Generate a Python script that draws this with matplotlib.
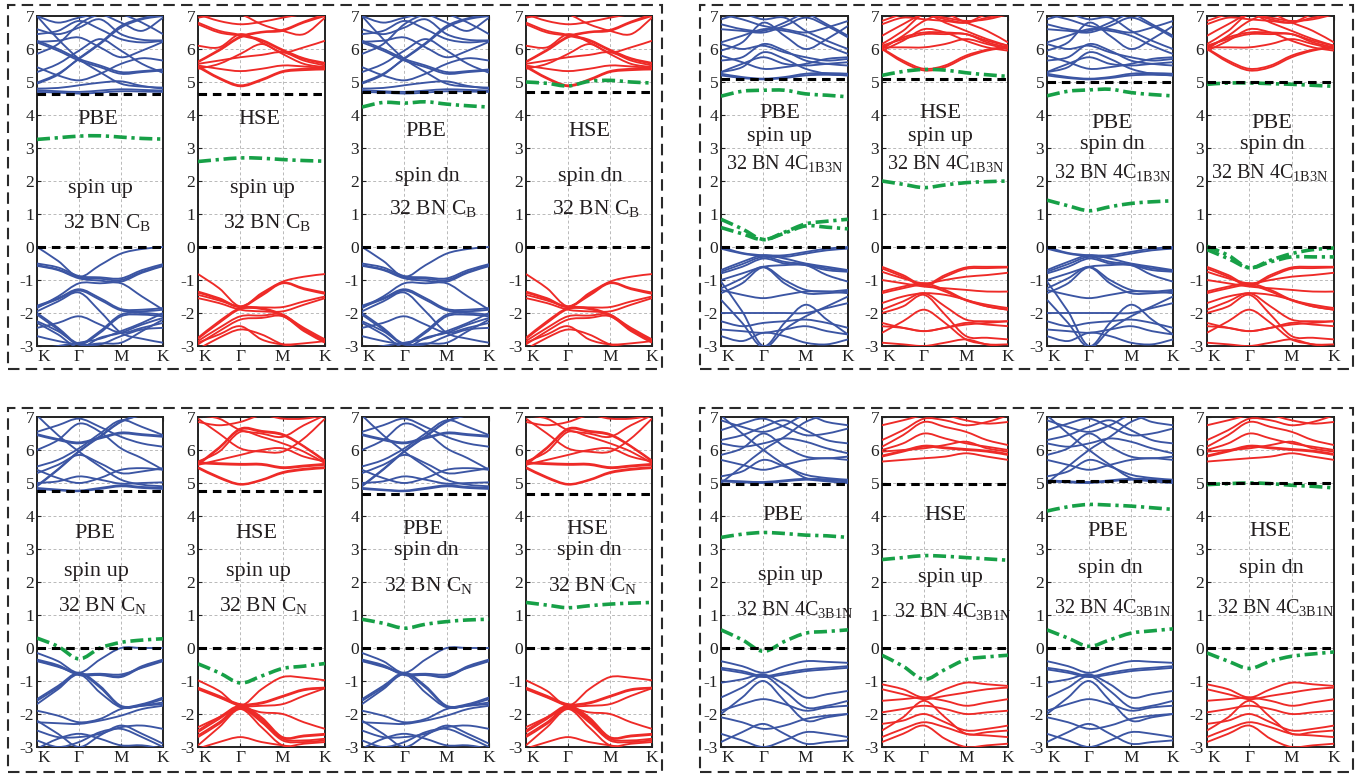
import numpy as np
import matplotlib
matplotlib.use("Agg")
import matplotlib.pyplot as plt
from matplotlib.path import Path
from matplotlib.patches import PathPatch, Rectangle

plt.rcParams.update({
    "font.family": ["Liberation Serif", "DejaVu Serif"],
    "mathtext.fontset": "custom",
    "mathtext.rm": "Liberation Serif",
    "mathtext.it": "Liberation Serif:italic",
    "axes.unicode_minus": False,
})

# high-symmetry path K-Γ-M-K, sampled at the nodes and half-way points
k_nodes = [0.0, 0.5, 1.0, 1.5, 2.0, 2.5, 3.0]
k_labels = ["K", "Γ", "M", "K"]

# ---------------- 32 BN C_B ----------------
cb_CB_pbe = [
    [4.70, 4.68, 4.65, 4.68, 4.72, 4.71, 4.70],
    [4.75, 4.72, 4.70, 4.74, 4.78, 4.76, 4.74],
    [4.80, 4.82, 4.90, 4.98, 5.02, 4.88, 4.80],
    [4.98, 5.25, 5.70, 6.15, 6.65, 6.90, 7.00],
    [4.95, 5.22, 5.72, 6.18, 6.70, 6.93, 7.05],
    [7.00, 6.30, 5.70, 5.30, 4.95, 4.86, 4.83],
    [6.20, 5.95, 5.65, 5.45, 5.25, 5.30, 5.35],
    [6.25, 6.00, 5.70, 5.50, 5.30, 5.33, 5.38],
    [5.30, 5.55, 5.95, 6.30, 5.95, 5.55, 5.28],
    [6.22, 6.25, 6.35, 6.05, 5.75, 5.95, 6.22],
    [6.60, 6.45, 6.65, 6.90, 6.45, 6.28, 6.26],
    [5.45, 5.20, 5.05, 5.25, 5.55, 5.72, 5.65],
    [7.00, 6.80, 6.95, 7.05, 6.80, 6.55, 6.95],
    [5.85, 6.15, 6.75, 7.05, 7.05, 6.80, 6.45],
    [6.45, 6.55, 6.85, 6.60, 6.30, 6.20, 6.25],
]
vb_CB_pbe = [
    [0.00, -0.42, -0.90, -0.55, -0.20, -0.06, 0.00],
    [-0.50, -0.62, -0.88, -0.92, -0.95, -0.70, -0.52],
    [-0.55, -0.68, -0.92, -0.96, -1.00, -0.75, -0.56],
    [-0.57, -0.70, -0.95, -1.02, -1.05, -0.78, -0.58],
    [-1.78, -1.55, -1.28, -1.55, -1.88, -1.90, -1.85],
    [-1.82, -1.58, -1.32, -1.60, -1.92, -1.95, -1.90],
    [-1.95, -1.65, -1.38, -1.95, -2.60, -2.78, -2.90],
    [-2.00, -2.45, -2.92, -2.55, -2.05, -2.00, -2.05],
    [-2.05, -2.50, -2.95, -2.60, -2.10, -2.05, -2.10],
    [-2.25, -2.55, -2.95, -2.92, -2.90, -2.55, -2.20],
    [-3.10, -3.00, -2.90, -2.78, -2.55, -2.30, -2.00],
    [-1.85, -1.50, -1.10, -1.10, -1.10, -1.50, -1.90],
    [-2.30, -2.65, -3.05, -2.75, -2.60, -2.35, -2.15],
    [-2.45, -2.30, -2.10, -2.35, -2.60, -2.45, -2.30],
    [-2.70, -2.85, -2.95, -2.95, -2.70, -2.50, -2.45],
]
cb_CB_hse = [
    [5.45, 5.10, 4.87, 5.05, 5.30, 5.36, 5.38],
    [5.48, 5.13, 4.90, 5.08, 5.33, 5.40, 5.42],
    [5.50, 5.40, 5.33, 5.40, 5.50, 5.47, 5.42],
    [5.55, 5.65, 5.75, 5.82, 5.90, 5.65, 5.50],
    [5.60, 5.95, 6.35, 6.50, 6.55, 6.80, 7.00],
    [5.62, 5.98, 6.38, 6.52, 6.58, 6.83, 7.05],
    [6.10, 6.05, 6.45, 6.20, 5.85, 5.55, 5.45],
    [6.75, 6.50, 6.40, 6.25, 5.95, 5.70, 5.55],
    [6.80, 6.55, 6.43, 6.28, 5.98, 5.72, 5.58],
    [7.05, 6.85, 6.75, 6.82, 6.95, 7.05, 7.05],
    [5.40, 5.55, 5.85, 6.15, 5.90, 6.05, 6.25],
    [6.95, 7.05, 7.05, 6.75, 6.55, 6.45, 6.95],
]
vb_CB_hse = [
    [-0.82, -1.25, -1.80, -1.40, -1.05, -0.90, -0.82],
    [-1.35, -1.55, -1.80, -1.45, -1.08, -1.25, -1.38],
    [-1.38, -1.58, -1.82, -1.48, -1.10, -1.28, -1.42],
    [-1.45, -1.62, -1.82, -1.83, -1.82, -1.65, -1.50],
    [-2.75, -2.25, -1.85, -1.85, -2.05, -2.45, -2.80],
    [-2.78, -2.30, -1.88, -1.88, -2.08, -2.50, -2.85],
    [-2.85, -2.45, -2.10, -2.08, -2.05, -2.50, -2.85],
    [-2.95, -2.55, -2.20, -2.15, -2.10, -2.55, -2.90],
    [-2.90, -2.65, -2.40, -2.80, -2.95, -2.92, -2.85],
    [-3.10, -2.75, -2.50, -2.65, -2.95, -3.05, -3.10],
    [-1.55, -1.70, -1.90, -1.95, -1.95, -1.75, -1.55],
]

# ---------------- 32 BN 4C_1B3N ----------------
cb_1B3N_pbe = [
    [5.20, 5.12, 5.08, 5.12, 5.20, 5.22, 5.20],
    [5.25, 5.15, 5.10, 5.15, 5.25, 5.27, 5.25],
    [5.30, 5.45, 5.90, 5.70, 5.40, 5.25, 5.20],
    [5.30, 5.55, 5.75, 5.55, 5.50, 5.55, 5.60],
    [5.80, 5.60, 5.40, 5.45, 5.55, 5.70, 5.75],
    [6.15, 6.00, 6.10, 5.90, 5.75, 5.65, 5.70],
    [6.20, 6.40, 6.60, 6.55, 6.40, 6.10, 5.85],
    [6.60, 6.55, 6.50, 6.70, 6.95, 6.70, 6.35],
    [6.75, 6.60, 6.55, 6.80, 7.05, 6.75, 6.40],
    [7.05, 6.90, 6.70, 6.60, 6.50, 6.65, 6.85],
    [6.90, 7.05, 6.90, 6.95, 6.55, 6.25, 6.00],
    [5.95, 6.20, 6.80, 6.40, 6.00, 6.30, 6.70],
    [5.65, 5.75, 6.15, 5.95, 5.65, 5.55, 5.50],
]
vb_1B3N_pbe = [
    [0.00, -0.18, -0.25, -0.25, -0.15, -0.05, 0.00],
    [-0.05, -0.20, -0.28, -0.30, -0.20, -0.10, -0.05],
    [-0.70, -0.45, -0.25, -0.35, -0.50, -0.60, -0.70],
    [-0.75, -0.52, -0.30, -0.45, -0.52, -0.65, -0.72],
    [-0.80, -0.60, -0.35, -0.50, -0.55, -0.70, -0.75],
    [-1.00, -0.80, -0.60, -0.55, -0.55, -0.85, -1.05],
    [-1.25, -0.95, -0.60, -1.00, -1.30, -1.35, -1.30],
    [-1.40, -1.10, -0.62, -1.10, -1.40, -1.40, -1.35],
    [-1.30, -1.45, -1.55, -1.45, -1.35, -1.35, -1.40],
    [-2.00, -2.00, -2.00, -2.00, -2.00, -1.85, -1.70],
    [-2.25, -2.40, -2.30, -2.25, -2.20, -2.30, -2.45],
    [-1.05, -1.95, -3.00, -2.30, -1.75, -2.20, -2.65],
    [-2.70, -2.85, -2.60, -2.70, -2.90, -2.95, -2.80],
    [-2.50, -2.55, -2.60, -2.50, -2.40, -2.55, -2.65],
    [-1.60, -2.30, -3.05, -2.50, -2.10, -1.80, -1.50],
]
cb_1B3N_hse = [
    [6.00, 5.60, 5.35, 5.45, 5.75, 5.95, 6.05],
    [6.02, 5.65, 5.40, 5.50, 5.80, 5.98, 6.08],
    [6.05, 6.05, 6.05, 6.15, 6.30, 6.15, 6.00],
    [6.10, 6.30, 6.45, 6.45, 6.45, 6.20, 6.05],
    [6.05, 6.35, 6.50, 6.50, 6.45, 6.25, 6.10],
    [5.95, 6.25, 6.60, 6.50, 6.25, 6.05, 5.95],
    [6.15, 6.55, 7.05, 6.80, 6.55, 6.30, 6.10],
    [6.40, 6.75, 7.05, 6.90, 6.80, 6.95, 7.05],
    [6.00, 6.40, 6.85, 7.05, 6.80, 6.55, 6.20],
    [6.75, 6.95, 6.90, 6.85, 6.80, 7.05, 7.05],
    [6.85, 7.05, 7.05, 6.95, 6.85, 6.90, 7.05],
]
vb_1B3N_hse = [
    [-0.60, -0.85, -1.15, -0.85, -0.62, -0.60, -0.60],
    [-0.65, -0.90, -1.18, -0.90, -0.66, -0.64, -0.62],
    [-0.75, -0.95, -1.10, -1.00, -0.90, -0.85, -0.78],
    [-1.00, -1.10, -1.20, -1.25, -1.30, -1.35, -1.35],
    [-1.35, -1.20, -1.10, -1.30, -1.60, -1.75, -1.85],
    [-1.40, -1.25, -1.15, -1.35, -1.62, -1.80, -1.90],
    [-1.70, -1.50, -1.40, -1.45, -1.60, -1.80, -1.90],
    [-1.90, -1.65, -1.40, -1.80, -2.20, -2.25, -2.25],
    [-2.00, -1.80, -1.45, -2.05, -2.70, -2.75, -2.80],
    [-2.30, -2.45, -2.55, -2.45, -2.35, -2.30, -2.25],
    [-2.40, -2.45, -2.55, -2.45, -2.30, -2.35, -2.40],
    [-2.60, -2.25, -1.90, -2.30, -2.80, -2.95, -3.05],
    [-2.90, -2.95, -3.00, -2.90, -2.80, -2.95, -2.95],
]

# ---------------- 32 BN C_N ----------------
cb_CN_pbe = [
    [4.82, 4.78, 4.75, 4.82, 4.90, 4.85, 4.82],
    [4.85, 4.80, 4.77, 4.85, 4.93, 4.88, 4.85],
    [5.00, 5.05, 5.20, 5.10, 4.98, 5.00, 5.02],
    [5.40, 5.15, 5.00, 5.15, 5.40, 5.45, 5.40],
    [4.90, 5.40, 5.95, 6.40, 6.85, 7.05, 7.05],
    [4.92, 5.42, 5.97, 6.42, 6.87, 7.05, 7.05],
    [7.05, 6.45, 5.95, 5.50, 5.10, 4.95, 4.90],
    [6.45, 6.30, 6.20, 6.35, 6.50, 6.45, 6.40],
    [6.48, 6.33, 6.23, 6.38, 6.53, 6.48, 6.43],
    [6.55, 6.75, 6.95, 6.70, 6.40, 6.20, 6.10],
    [5.30, 5.55, 5.85, 5.60, 5.30, 5.35, 5.45],
    [6.00, 6.30, 6.80, 6.55, 6.05, 5.75, 5.40],
    [5.50, 5.70, 6.05, 6.50, 6.90, 6.70, 6.45],
]
vb_CN_pbe = [
    [-0.15, -0.40, -0.75, -0.35, 0.00, 0.00, 0.00],
    [-0.35, -0.52, -0.80, -0.80, -0.85, -0.55, -0.35],
    [-0.38, -0.55, -0.82, -0.82, -0.88, -0.58, -0.38],
    [-0.40, -0.57, -0.78, -0.78, -0.80, -0.60, -0.40],
    [-1.55, -1.15, -0.75, -1.15, -1.75, -1.70, -1.50],
    [-1.60, -1.20, -0.78, -1.20, -1.78, -1.73, -1.55],
    [-1.70, -1.25, -0.80, -1.35, -1.80, -1.75, -1.70],
    [-1.90, -2.05, -2.25, -2.15, -1.85, -1.75, -1.65],
    [-2.25, -2.28, -2.30, -2.20, -2.05, -1.85, -1.75],
    [-2.20, -2.60, -3.00, -2.65, -2.35, -2.60, -2.90],
    [-2.50, -2.70, -2.70, -2.60, -2.40, -2.35, -2.45],
    [-3.05, -2.75, -2.60, -2.75, -2.95, -2.95, -3.05],
    [-2.80, -3.00, -2.85, -2.55, -2.45, -2.70, -3.00],
]
cb_CN_hse = [
    [5.45, 5.15, 4.95, 5.08, 5.30, 5.40, 5.45],
    [5.48, 5.18, 4.97, 5.10, 5.33, 5.43, 5.48],
    [5.60, 5.57, 5.55, 5.55, 5.45, 5.50, 5.55],
    [5.62, 5.60, 5.58, 5.58, 5.48, 5.53, 5.58],
    [5.65, 5.95, 6.55, 6.40, 6.20, 5.95, 5.60],
    [5.55, 6.05, 6.62, 6.55, 6.45, 6.10, 5.65],
    [5.58, 6.08, 6.65, 6.58, 6.48, 6.12, 5.68],
    [7.05, 6.95, 6.60, 6.50, 6.40, 6.75, 7.05],
    [6.85, 6.75, 6.85, 7.05, 6.95, 6.95, 7.05],
    [5.55, 5.70, 5.85, 6.00, 6.05, 5.80, 5.65],
    [6.95, 6.50, 6.05, 5.95, 5.95, 6.35, 6.95],
]
vb_CN_hse = [
    [-0.98, -1.30, -1.75, -1.25, -0.88, -0.90, -0.98],
    [-1.20, -1.45, -1.70, -1.65, -1.45, -1.25, -1.20],
    [-1.22, -1.48, -1.72, -1.68, -1.48, -1.28, -1.22],
    [-1.25, -1.50, -1.75, -1.75, -1.70, -1.45, -1.22],
    [-2.50, -2.10, -1.75, -2.10, -2.70, -2.65, -2.60],
    [-2.55, -2.15, -1.78, -2.15, -2.72, -2.68, -2.63],
    [-2.65, -2.25, -1.80, -2.20, -2.75, -2.80, -2.75],
    [-2.70, -2.30, -1.83, -2.25, -2.80, -2.85, -2.80],
    [-2.40, -2.10, -1.82, -1.95, -2.00, -2.25, -2.45],
    [-2.95, -2.40, -1.85, -2.40, -2.95, -2.90, -2.85],
    [-3.05, -2.85, -2.70, -2.85, -2.95, -3.05, -3.05],
]

# ---------------- 32 BN 4C_3B1N ----------------
cb_3B1N_pbe = [
    [5.05, 5.02, 5.00, 5.05, 5.10, 5.08, 5.05],
    [5.08, 5.05, 5.03, 5.08, 5.13, 5.11, 5.08],
    [5.20, 5.35, 5.70, 5.50, 5.25, 5.15, 5.10],
    [5.70, 5.55, 5.40, 5.55, 5.70, 5.75, 5.70],
    [5.00, 5.50, 6.00, 6.40, 6.85, 7.05, 7.05],
    [7.05, 6.50, 6.00, 5.55, 5.15, 5.05, 5.00],
    [6.20, 6.10, 6.20, 6.35, 6.25, 6.05, 5.90],
    [6.60, 6.80, 6.95, 6.70, 6.45, 6.50, 6.65],
    [5.85, 6.05, 6.50, 6.10, 5.80, 5.75, 5.80],
    [6.90, 6.70, 6.55, 6.75, 7.05, 6.85, 6.75],
    [6.30, 6.45, 6.70, 6.90, 6.60, 6.30, 6.20],
]
vb_3B1N_pbe = [
    [-0.40, -0.55, -0.75, -0.55, -0.40, -0.42, -0.45],
    [-0.60, -0.70, -0.85, -0.75, -0.65, -0.60, -0.55],
    [-0.65, -0.75, -0.88, -0.80, -0.70, -0.65, -0.60],
    [-1.05, -0.95, -0.80, -1.10, -1.50, -1.40, -1.30],
    [-1.50, -1.20, -0.85, -1.30, -1.80, -1.75, -1.60],
    [-2.00, -1.50, -1.00, -1.60, -2.20, -2.10, -2.00],
    [-2.10, -2.25, -2.45, -2.35, -2.15, -2.05, -2.00],
    [-2.60, -2.80, -3.00, -2.80, -2.55, -2.60, -2.70],
    [-1.90, -1.70, -1.55, -1.70, -1.90, -1.80, -1.75],
    [-2.85, -2.55, -2.30, -2.60, -2.90, -2.85, -2.80],
]
cb_3B1N_hse = [
    [5.65, 5.70, 5.75, 5.80, 5.90, 5.80, 5.70],
    [5.80, 5.95, 6.10, 6.05, 6.00, 5.95, 5.85],
    [5.83, 5.98, 6.13, 6.08, 6.03, 5.98, 5.88],
    [6.00, 6.20, 6.50, 6.35, 6.20, 6.10, 6.00],
    [6.10, 6.45, 6.85, 6.70, 6.55, 6.30, 6.15],
    [6.30, 6.60, 6.95, 6.90, 6.75, 6.85, 7.05],
    [6.75, 6.90, 7.05, 7.05, 6.90, 6.80, 6.85],
    [5.95, 6.00, 6.05, 6.15, 6.25, 6.05, 5.95],
]
vb_3B1N_hse = [
    [-1.10, -1.25, -1.50, -1.25, -1.05, -1.10, -1.15],
    [-1.25, -1.40, -1.55, -1.45, -1.35, -1.25, -1.20],
    [-1.60, -1.55, -1.50, -1.60, -1.75, -1.65, -1.55],
    [-2.50, -2.10, -1.60, -2.10, -2.60, -2.55, -2.50],
    [-2.70, -2.45, -2.25, -2.40, -2.60, -2.65, -2.70],
    [-2.85, -2.60, -2.35, -2.75, -3.00, -2.95, -2.90],
    [-1.95, -1.85, -1.75, -1.85, -2.00, -1.95, -1.90],
    [-2.30, -2.20, -2.00, -2.25, -2.50, -2.45, -2.35],
]

# carbon defect levels (one list per panel)
defect_levels = [
    [[3.26, 3.31, 3.36, 3.37, 3.33, 3.29, 3.27]],
    [[2.59, 2.65, 2.70, 2.69, 2.65, 2.62, 2.60]],
    [[4.24, 4.38, 4.36, 4.40, 4.33, 4.28, 4.24]],
    [[5.00, 4.96, 4.88, 5.02, 5.05, 5.00, 4.97]],
    [[4.57, 4.72, 4.75, 4.75, 4.64, 4.60, 4.55],
     [0.84, 0.55, 0.23, 0.45, 0.70, 0.78, 0.84],
     [0.59, 0.40, 0.22, 0.42, 0.64, 0.60, 0.55]],
    [[5.20, 5.32, 5.38, 5.36, 5.28, 5.22, 5.17],
     [2.00, 1.90, 1.80, 1.88, 1.95, 1.98, 2.00]],
    [[4.58, 4.72, 4.76, 4.78, 4.68, 4.62, 4.58],
     [1.42, 1.25, 1.10, 1.22, 1.32, 1.37, 1.40]],
    [[4.93, 4.97, 4.97, 4.95, 4.93, 4.90, 4.87],
     [0.02, -0.25, -0.63, -0.40, -0.20, -0.08, -0.03],
     [-0.08, -0.35, -0.63, -0.45, -0.30, -0.30, -0.30]],
    [[0.30, 0.05, -0.33, 0.00, 0.17, 0.24, 0.28]],
    [[-0.48, -0.75, -1.06, -0.85, -0.62, -0.55, -0.47]],
    [[0.87, 0.75, 0.60, 0.72, 0.80, 0.85, 0.87]],
    [[1.38, 1.30, 1.22, 1.28, 1.33, 1.36, 1.38]],
    [[3.35, 3.45, 3.50, 3.47, 3.42, 3.40, 3.35],
     [0.55, 0.25, -0.10, 0.20, 0.45, 0.50, 0.55]],
    [[2.68, 2.74, 2.80, 2.78, 2.74, 2.70, 2.66],
     [-0.22, -0.55, -0.95, -0.65, -0.35, -0.27, -0.22]],
    [[4.15, 4.28, 4.35, 4.33, 4.30, 4.25, 4.20],
     [0.55, 0.30, 0.05, 0.25, 0.45, 0.52, 0.58]],
    [[4.95, 4.98, 5.00, 4.98, 4.93, 4.90, 4.85],
     [-0.15, -0.40, -0.62, -0.40, -0.25, -0.18, -0.12]],
]

# conduction band minimum of the host, per panel (valence band maximum is 0)
cbm_levels = [4.64, 4.64, 4.70, 4.70, 5.08, 5.08, 5.00, 5.00,
              4.75, 4.75, 4.66, 4.66, 4.97, 4.97, 5.05, 5.00]

methods = ["PBE", "HSE", "PBE", "HSE", "PBE", "HSE", "PBE", "PBE",
           "PBE", "HSE", "PBE", "HSE", "PBE", "HSE", "PBE", "HSE"]
spins = ["spin up", "spin up", "spin dn", "spin dn"] * 4
systems = ([r"32 BN C$_{\mathrm{B}}$"] * 4 + [r"32 BN 4C$_{\mathrm{1B3N}}$"] * 4
           + [r"32 BN C$_{\mathrm{N}}$"] * 4 + [r"32 BN 4C$_{\mathrm{3B1N}}$"] * 4)

BLUE = "#3b55a3"
RED = "#ee2a27"
GREEN = "#17a047"

band_sets = [
    (cb_CB_pbe, vb_CB_pbe, BLUE), (cb_CB_hse, vb_CB_hse, RED),
    (cb_CB_pbe, vb_CB_pbe, BLUE), (cb_CB_hse, vb_CB_hse, RED),
    (cb_1B3N_pbe, vb_1B3N_pbe, BLUE), (cb_1B3N_hse, vb_1B3N_hse, RED),
    (cb_1B3N_pbe, vb_1B3N_pbe, BLUE), (cb_1B3N_hse, vb_1B3N_hse, RED),
    (cb_CN_pbe, vb_CN_pbe, BLUE), (cb_CN_hse, vb_CN_hse, RED),
    (cb_CN_pbe, vb_CN_pbe, BLUE), (cb_CN_hse, vb_CN_hse, RED),
    (cb_3B1N_pbe, vb_3B1N_pbe, BLUE), (cb_3B1N_hse, vb_3B1N_hse, RED),
    (cb_3B1N_pbe, vb_3B1N_pbe, BLUE), (cb_3B1N_hse, vb_3B1N_hse, RED),
]

# label placement: (x, baseline) of method / spin / system lines, in data units
label_pos = [
    [(1.45, 3.73), (1.51, 1.64), (1.66, 0.57)],
    [(1.44, 3.73), (1.52, 1.64), (1.64, 0.57)],
    [(1.50, 3.36), (1.55, 2.00), (1.68, 1.00)],
    [(1.50, 3.36), (1.54, 2.00), (1.67, 1.00)],
    [(1.39, 3.92), (1.39, 3.21), (1.51, 2.35)],
    [(1.38, 3.92), (1.39, 3.21), (1.52, 2.35)],
    [(1.55, 3.62), (1.56, 2.96), (1.57, 2.10)],
    [(1.54, 3.62), (1.55, 2.96), (1.49, 2.10)],
    [(1.38, 3.33), (1.42, 2.17), (1.57, 1.11)],
    [(1.39, 3.33), (1.43, 2.17), (1.56, 1.11)],
    [(1.43, 3.45), (1.52, 2.82), (1.58, 1.72)],
    [(1.45, 3.45), (1.52, 2.82), (1.58, 1.72)],
    [(1.46, 3.88), (1.63, 2.06), (1.75, 1.00)],
    [(1.50, 3.88), (1.62, 2.00), (1.69, 0.95)],
    [(1.45, 3.39), (1.50, 2.27), (1.57, 1.05)],
    [(1.49, 3.39), (1.52, 2.27), (1.61, 1.05)],
]
system_size = [15.5] * 4 + [14.5] * 4 + [15.5] * 4 + [14.5] * 4

W, H = 1362, 774
fig = plt.figure(figsize=(W / 100, H / 100), dpi=100)

cols_px = [(37, 163), (198, 325), (362, 489), (526, 652),
           (721, 848), (882, 1008), (1047, 1173), (1207, 1334)]
rows_px = [(16, 346), (417, 747)]


def smooth_path(xs, ys):
    pts = np.column_stack([xs, ys]).astype(float)
    n = len(pts)
    verts = [pts[0]]
    codes = [Path.MOVETO]
    for i in range(n - 1):
        p0 = pts[max(i - 1, 0)]
        p1 = pts[i]
        p2 = pts[i + 1]
        p3 = pts[min(i + 2, n - 1)]
        verts += [p1 + (p2 - p0) / 6.0, p2 - (p3 - p1) / 6.0, p2]
        codes += [Path.CURVE4] * 3
    return Path(verts, codes)


def draw_band(ax, ys, color, lw, ls="-", z=3):
    patch = PathPatch(smooth_path(k_nodes, ys), fill=False, ec=color, lw=lw,
                      ls=ls, zorder=z, capstyle="butt", joinstyle="round")
    ax.add_patch(patch)


for i in range(16):
    g, j = divmod(i, 4)
    row, block = divmod(g, 2)
    x0, x1 = cols_px[block * 4 + j]
    y0, y1 = rows_px[row]
    ax = fig.add_axes([x0 / W, 1 - y1 / H, (x1 - x0) / W, (y1 - y0) / H])
    ax.set_xlim(0, 3)
    ax.set_ylim(-3, 7)
    ax.set_xticks([0, 1, 2, 3])
    ax.set_xticklabels(k_labels)
    ax.get_xticklabels()[0].set_horizontalalignment("left")
    ax.set_yticks(range(-3, 8))
    ax.set_yticklabels([str(v) for v in range(-3, 8)])
    ax.tick_params(direction="in", length=3, width=0.8, labelsize=12.5,
                   top=True, right=False, pad=2, colors="#222222")
    for s in ax.spines.values():
        s.set_linewidth(1.4)
        s.set_color("#222222")
    ax.grid(True, color="#b9b9b9", lw=0.7, ls=(0, (3, 2.5)))
    ax.set_axisbelow(True)

    cb, vb, col = band_sets[i]
    for b in cb:
        draw_band(ax, b, col, 1.35)
    for b in vb:
        draw_band(ax, b, col, 1.35)
    for b in defect_levels[i]:
        draw_band(ax, b, GREEN, 2.6, ls=(0, (3.6, 1.3, 0.9, 1.3)), z=5)

    ax.axhline(0, color="black", lw=2.2, ls=(0, (2.8, 1.9)), zorder=6)
    ax.axhline(cbm_levels[i], color="black", lw=2.2, ls=(0, (2.8, 1.9)), zorder=6)

    texts = [methods[i], spins[i], systems[i]]
    sizes = [16, 16, system_size[i]]
    for (tx, ty), t, fs in zip(label_pos[i], texts, sizes):
        ax.text(tx, ty, t, ha="center", va="baseline", fontsize=fs,
                color="#231f20", zorder=7)

# dashed frames around each group of four panels
frames = [(8, 5, 662, 369), (700, 5, 1353, 369),
          (8, 408, 662, 772), (700, 408, 1353, 772)]
for (fx0, fy0, fx1, fy1) in frames:
    fig.patches.append(Rectangle((fx0 / W, 1 - fy1 / H), (fx1 - fx0) / W,
                                 (fy1 - fy0) / H, transform=fig.transFigure,
                                 fill=False, ec="#2a2a2a", lw=1.5,
                                 ls=(0, (5.5, 3.0))))

fig.savefig("out.png", dpi=100)
